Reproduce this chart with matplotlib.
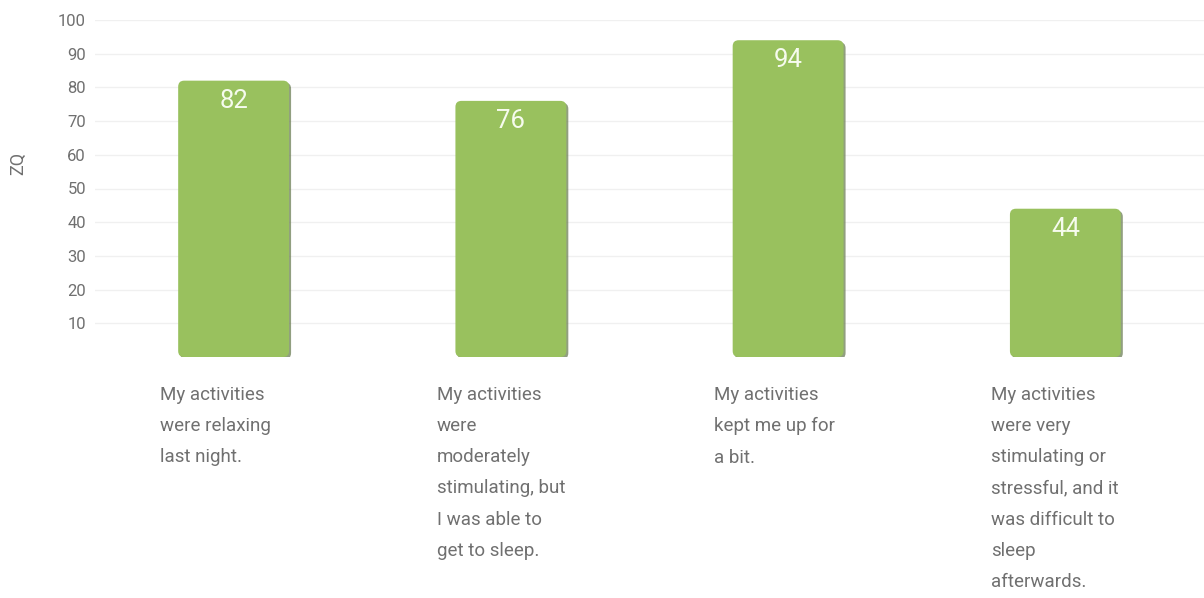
import matplotlib
matplotlib.use("Agg")
import matplotlib.pyplot as plt
from matplotlib.patches import FancyBboxPatch
from matplotlib import transforms

categories = [
    "My activities\nwere relaxing\nlast night.",
    "My activities\nwere\nmoderately\nstimulating, but\nI was able to\nget to sleep.",
    "My activities\nkept me up for\na bit.",
    "My activities\nwere very\nstimulating or\nstressful, and it\nwas difficult to\nsleep\nafterwards.",
]
values = [82, 76, 94, 44]
y_ticks = [10, 20, 30, 40, 50, 60, 70, 80, 90, 100]
y_label = "ZQ"

BAR_COLOR = "#99c15e"
SHADOW_COLOR = "#6d7f55"
TEXT_GRAY = "#707070"

W, H, DPI = 1204, 598, 100
fig = plt.figure(figsize=(W / DPI, H / DPI), dpi=DPI)
ax = fig.add_axes([95 / W, 1 - 357 / H, (1204 - 95) / W, (357 - 20) / H])
ax.set_xlim(-0.5, len(values) - 0.5)
ax.set_ylim(0, 100)

for s in ax.spines.values():
    s.set_visible(False)
ax.set_xticks([])
ax.set_yticks(y_ticks)
ax.tick_params(axis="y", length=0, pad=6.5, labelsize=12, labelcolor=TEXT_GRAY)
for lbl in ax.get_yticklabels():
    lbl.set_fontfamily("Roboto")
ax.yaxis.grid(True, color="#f0f0f0", linewidth=1)
ax.set_axisbelow(True)

fig.text(18 / W, 1 - 163 / H, y_label, rotation=90, ha="center", va="center",
         fontsize=13, color=TEXT_GRAY, fontfamily="Roboto")

bars = ax.bar(range(len(values)), values, width=0.4, color="none", edgecolor="none")

# rounded bars with a soft drop shadow on the right/bottom edge
fig.canvas.draw()
px_x = ax.transData.transform((1, 0))[0] - ax.transData.transform((0, 0))[0]
px_y = ax.transData.transform((0, 1))[1] - ax.transData.transform((0, 0))[1]
aspect = px_x / px_y
radius = 6 / px_x
shadow_tr = transforms.offset_copy(ax.transData, fig=fig, x=2.0, y=-2.0, units="dots")

for rect, v in zip(bars, values):
    x0, w = rect.get_x(), rect.get_width()
    y0, h = rect.get_y(), rect.get_height()
    sh = FancyBboxPatch((x0, y0), w, h,
                        boxstyle=f"round,pad=0,rounding_size={radius}",
                        mutation_aspect=aspect, facecolor=SHADOW_COLOR,
                        edgecolor="none", alpha=0.75, transform=shadow_tr, zorder=2)
    ax.add_patch(sh)
    p = FancyBboxPatch((x0, y0), w, h,
                       boxstyle=f"round,pad=0,rounding_size={radius}",
                       mutation_aspect=aspect, facecolor=BAR_COLOR,
                       edgecolor="none", transform=ax.transData, zorder=3)
    ax.add_patch(p)
    ax.annotate(str(v), (rect.get_x() + w / 2, v), xytext=(0, -14.5),
                textcoords="offset points", ha="center", va="center",
                fontsize=18.5, color="#f6fbee", fontfamily="Roboto", zorder=4)

# wrapped category captions below each bar
label_tr = transforms.blended_transform_factory(ax.transData, fig.transFigure)
for i, text in enumerate(categories):
    ax.text(i - 74 / px_x, 1 - 386 / H, text, transform=label_tr,
            ha="left", va="top", fontsize=13.5, color=TEXT_GRAY,
            fontfamily="Roboto", linespacing=1.94, clip_on=False)

fig.savefig("out.png", dpi=DPI, facecolor="white")
